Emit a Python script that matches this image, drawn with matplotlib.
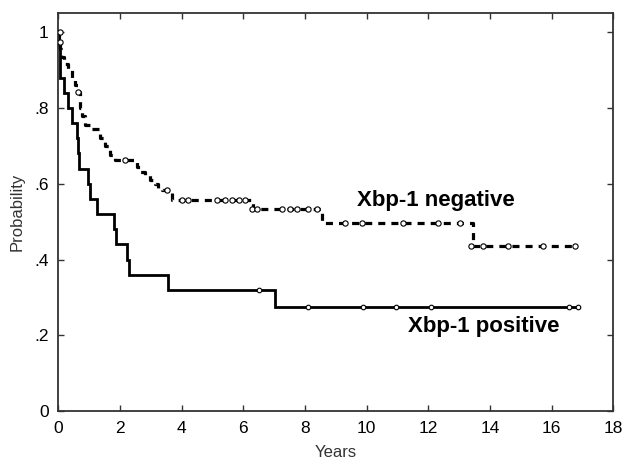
import matplotlib
matplotlib.use("Agg")
import matplotlib.pyplot as plt
import numpy as np

# ---- data ----
# Xbp-1 negative: step times and survival after each step
neg_t = [0.0, 0.03, 0.06, 0.10, 0.18, 0.30, 0.45, 0.55, 0.64, 0.70, 0.76, 0.87, 1.05,
         1.35, 1.51, 1.68, 1.84, 2.54, 2.65, 2.81, 2.97, 3.14, 3.23, 3.35, 3.68,
         6.33, 8.54, 13.46, 16.8]
neg_p = [1.0, 0.975, 0.955, 0.935, 0.915, 0.90, 0.88, 0.86, 0.842, 0.80, 0.778, 0.755, 0.745,
         0.72, 0.70, 0.676, 0.663, 0.645, 0.632, 0.622, 0.61, 0.60, 0.589, 0.584, 0.557,
         0.533, 0.497, 0.436, 0.436]
neg_cens_t = [0.05, 0.05, 0.64, 2.16, 3.52, 4.0, 4.22, 5.14, 5.41, 5.63, 5.86, 6.05,
              6.29, 6.45, 7.25, 7.5, 7.75, 8.1, 8.4,
              9.3, 9.84, 11.19, 12.33, 13.03,
              13.4, 13.79, 14.6, 15.73, 16.76]
neg_cens_p = [1.0, 0.975, 0.842, 0.663, 0.584, 0.557, 0.557, 0.557, 0.557, 0.557, 0.557, 0.557,
              0.533, 0.533, 0.533, 0.533, 0.533, 0.533, 0.533,
              0.497, 0.497, 0.497, 0.497, 0.497,
              0.436, 0.436, 0.436, 0.436, 0.436]

# Xbp-1 positive
pos_t = [0.0, 0.02, 0.04, 0.06, 0.18, 0.31, 0.44, 0.62, 0.65, 0.67, 0.96, 1.03, 1.26,
         1.81, 1.87, 2.24, 2.28, 3.56, 7.03, 16.9]
pos_p = [1.0, 0.96, 0.92, 0.88, 0.84, 0.80, 0.76, 0.72, 0.68, 0.64, 0.60, 0.56, 0.52,
         0.48, 0.44, 0.40, 0.36, 0.32, 0.274, 0.274]
pos_cens_t = [6.51, 8.09, 9.87, 10.94, 12.08, 16.57, 16.86]
pos_cens_p = [0.32, 0.274, 0.274, 0.274, 0.274, 0.274, 0.274]

x_ticks = [0, 2, 4, 6, 8, 10, 12, 14, 16, 18]
y_ticks = [0, 0.2, 0.4, 0.6, 0.8, 1.0]
y_ticklabels = ["0", ".2", ".4", ".6", ".8", "1"]

label_neg = "Xbp-1 negative"
label_pos = "Xbp-1 positive"

# ---- figure ----
fig = plt.figure(figsize=(6.22, 4.61), dpi=100)
ax = fig.add_axes([0.0937, 0.1085, 0.8923, 0.8625])

tick_font = dict(family=["Liberation Sans Narrow", "Liberation Sans", "DejaVu Sans"], size=12.5)

ax.step(pos_t, pos_p, where="post", color="black", lw=2.0, solid_joinstyle="miter")
ax.step(neg_t, neg_p, where="post", color="black", lw=2.3, linestyle=(0, (2.2, 1.9)))

ax.plot(pos_cens_t, pos_cens_p, linestyle="none", marker="o", ms=3.3,
        mfc="white", mec="black", mew=0.8, zorder=5)
ax.plot(neg_cens_t, neg_cens_p, linestyle="none", marker="o", ms=3.8,
        mfc="white", mec="black", mew=0.8, zorder=5)

ax.set_xlim(0, 18)
ax.set_ylim(0, 1.05)
ax.set_xticks(x_ticks)
ax.set_xticklabels([str(v) for v in x_ticks], **tick_font)
ax.set_yticks(y_ticks)
ax.set_yticklabels(y_ticklabels, **tick_font)
ax.tick_params(direction="in", length=4, width=1, top=True, right=True, pad=7, color="#333333")
for s in ax.spines.values():
    s.set_linewidth(1.3)
    s.set_color("#333333")

ax.set_xlabel("Years", fontsize=12, family=["Liberation Sans", "DejaVu Sans"], color="#333333", labelpad=7)
ax.set_ylabel("Probability", fontsize=12, family=["Liberation Sans", "DejaVu Sans"], color="#333333", labelpad=7)

ax.text(9.69, 0.557, label_neg, fontsize=16, fontweight="bold",
        family=["Liberation Sans", "DejaVu Sans"], va="center", ha="left")
ax.text(11.34, 0.222, label_pos, fontsize=16, fontweight="bold",
        family=["Liberation Sans", "DejaVu Sans"], va="center", ha="left")

fig.savefig("out.png", dpi=100)
